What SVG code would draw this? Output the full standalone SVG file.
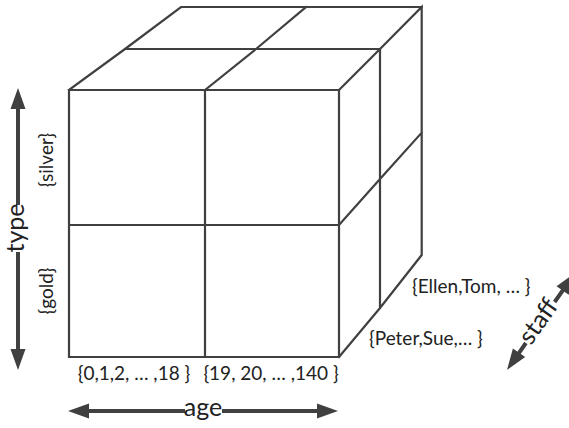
<svg xmlns="http://www.w3.org/2000/svg" width="569" height="428" viewBox="0 0 569 428">
<style>
.e{fill:none;stroke:#404040;stroke-width:2.2;stroke-linejoin:miter;stroke-linecap:square}
.sh{stroke:#404040;stroke-width:4;fill:none}
.hd{fill:#404040;stroke:none}
.lb{font-family:Lato,"Liberation Sans",sans-serif;font-size:19px;fill:#222}
.ax{font-family:Lato,"Liberation Sans",sans-serif;font-size:25px;fill:#222}
</style>
<rect width="569" height="428" fill="#fff"/>
<g id="cube">
<path class="e" d="M69,90 H339 V357 H69 Z M205,90 V357 M69,225 H339"/>
<path class="e" d="M69,90 L125,49 L181,7 H421.7 M125,49 H380 M205,90 L256,49 L306,7"/>
<path class="e" d="M339,90 L380,49 L421.7,7 V255 L380,308 L339,357 M380,49 V308 M339,225 L380,179 L421.7,132.7"/>
</g>
<g id="connectors">
<g id="type-arrow">
<path class="sh" d="M18,106 V205 M18,252 V350"/>
<path class="hd" d="M18,88 L25.5,109 L10.5,109 Z M18,370 L25.5,349 L10.5,349 Z"/>
</g>
<g id="age-arrow">
<path class="sh" d="M86,411 H185 M222,411 H320"/>
<path class="hd" d="M68,411 L89,403.5 L89,418.5 Z M338,411 L317,403.5 L317,418.5 Z"/>
</g>
<g id="staff-arrow">
<path class="sh" d="M517.3,355.3 L525.9,343 M554.6,302 L564.4,288.1"/>
<path class="hd" d="M507,370 L525.2,357.1 L512.9,348.5 Z M574.7,273.3 L568.7,294.8 L556.5,286.2 Z"/>
</g>
</g>
<g id="labels">
<text class="ax" transform="translate(24,228) rotate(-90)" text-anchor="middle">type</text>
<text class="ax" x="203" y="416" text-anchor="middle">age</text>
<text class="ax" transform="translate(545,326) rotate(-55)" text-anchor="middle">staff</text>
<text class="lb" transform="translate(53,160) rotate(-90)" text-anchor="middle">{silver}</text>
<text class="lb" transform="translate(53,291) rotate(-90)" text-anchor="middle">{gold}</text>
<text class="lb" x="134" y="380" text-anchor="middle">{0,1,2, … ,18 }</text>
<text class="lb" x="271" y="380" text-anchor="middle">{19, 20, … ,140 }</text>
<text class="lb" x="412" y="293">{Ellen,Tom, … }</text>
<text class="lb" x="369" y="345">{Peter,Sue,… }</text>
</g>
</svg>
